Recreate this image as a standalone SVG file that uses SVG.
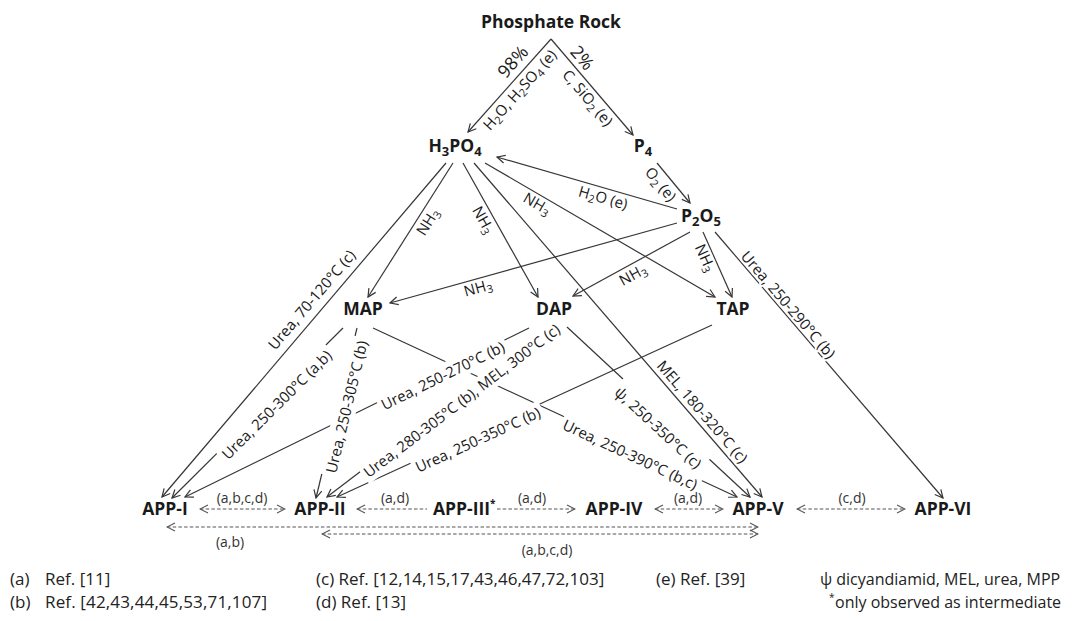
<svg xmlns="http://www.w3.org/2000/svg" width="1072" height="621" viewBox="0 0 1072 621">
<style>
text{font-family:"Open Sans","Noto Sans","DejaVu Sans",sans-serif;fill:#1a1a1a}
.n{font-size:17.5px;font-weight:bold;text-anchor:middle}
.l{font-size:15px;text-anchor:middle}
.h{stroke:#fff;stroke-width:4;paint-order:stroke;stroke-linejoin:round}
.p{font-size:18px;text-anchor:middle}
.bx{fill:#fff}
.dl{font-size:14px;text-anchor:middle;fill:#333}
.lg{font-size:17px;fill:#222}
.lg2{font-size:16px;fill:#222}
.e{fill:none;stroke:#363636;stroke-width:1.2;marker-end:url(#ah)}
.d{fill:none;stroke:#555;stroke-width:1.1;stroke-dasharray:3.5 2.2}
</style>
<defs>
<marker id="ah" viewBox="0 0 10 10" refX="9" refY="5" markerWidth="10" markerHeight="10" markerUnits="userSpaceOnUse" orient="auto-start-reverse">
<path d="M1,1 L9,5 L1,9" fill="none" stroke="#363636" stroke-width="1.2"/>
</marker>
<marker id="dh" viewBox="0 0 10 10" refX="9" refY="5" markerWidth="10" markerHeight="10" markerUnits="userSpaceOnUse" orient="auto-start-reverse">
<path d="M1,1 L9,5 L1,9" fill="none" stroke="#555" stroke-width="1.1"/>
</marker>
</defs>
<rect width="1072" height="621" fill="#fff"/>
<g id="connectors">
<path class="e" d="M551,39 L468,132"/>
<path class="e" d="M551,39 L633,135"/>
<path class="e" d="M657,163 L690,203"/>
<path class="e" d="M677,209 L497,157"/>
<path class="e" d="M446,163 L162,497"/>
<path class="e" d="M453,163 L368,297"/>
<path class="e" d="M463,163 L538,297"/>
<path class="e" d="M485,163 L715,297"/>
<path class="e" d="M474,163 L762,497"/>
<path class="e" d="M677,223 L390,303"/>
<path class="e" d="M690,232 L573,296"/>
<path class="e" d="M703,232 L732,297"/>
<path class="e" d="M715,232 L943,498"/>
<path class="e" d="M343,328 L172,498"/>
<path class="e" d="M357,328 L316,498"/>
<path class="e" d="M373,328 L737,497"/>
<path class="e" d="M529,328 L185,497"/>
<path class="e" d="M550,327 L327,497"/>
<path class="e" d="M712,325 L337,497"/>
<path class="e" d="M567,327 L750,497"/>
<path class="d" d="M200,509 L285,509" marker-start="url(#dh)" marker-end="url(#dh)"/>
<path class="d" d="M357,509 L427,509" marker-start="url(#dh)"/>
<path class="d" d="M497,509 L575,509" marker-end="url(#dh)"/>
<path class="d" d="M655,509 L723,509" marker-start="url(#dh)" marker-end="url(#dh)"/>
<path class="d" d="M797,509 L905,509" marker-start="url(#dh)" marker-end="url(#dh)"/>
<path class="d" d="M167,527 L758,527" marker-start="url(#dh)" marker-end="url(#dh)"/>
<path class="d" d="M322,534 L758,534" marker-start="url(#dh)" marker-end="url(#dh)"/>
</g>
<g id="edge-labels">
<text class="p h" transform="translate(513,62) rotate(-48.3)" y="6">98%</text>
<text class="l h" transform="translate(520,90) rotate(-48.3)" y="5">H<tspan font-size="11" dy="3">2</tspan><tspan dy="-3">O, H</tspan><tspan font-size="11" dy="3">2</tspan><tspan dy="-3">SO</tspan><tspan font-size="11" dy="3">4</tspan><tspan dy="-3"> (e)</tspan></text>
<text class="p h" transform="translate(582,58) rotate(49.5)" y="6">2%</text>
<text class="l h" transform="translate(587.5,98) rotate(49.5)" y="5">C, SiO<tspan font-size="11" dy="3">2</tspan><tspan dy="-3"> (e)</tspan></text>
<text class="l h" transform="translate(660.5,184.5) rotate(50.5)" y="5">O<tspan font-size="11" dy="3">2</tspan><tspan dy="-3"> (e)</tspan></text>
<text class="l h" transform="translate(603,198) rotate(16)" y="5">H<tspan font-size="11" dy="3">2</tspan><tspan dy="-3">O (e)</tspan></text>
<text class="l h" transform="translate(428,222) rotate(-57.6)" y="5">NH<tspan font-size="11" dy="3">3</tspan></text>
<text class="l h" transform="translate(483,220) rotate(60.8)" y="5">NH<tspan font-size="11" dy="3">3</tspan></text>
<text class="l h" transform="translate(537,204) rotate(30.2)" y="5">NH<tspan font-size="11" dy="3">3</tspan></text>
<text class="l h" transform="translate(478,288) rotate(-15.6)" y="5">NH<tspan font-size="11" dy="3">3</tspan></text>
<text class="l h" transform="translate(633,275) rotate(-28.7)" y="5">NH<tspan font-size="11" dy="3">3</tspan></text>
<text class="l h" transform="translate(705,258) rotate(65.9)" y="5">NH<tspan font-size="11" dy="3">3</tspan></text>
<text class="l h" transform="translate(312,300) rotate(-49.6)" y="5">Urea, 70-120°C (c)</text>
<text class="l h" transform="translate(788,305) rotate(49.4)" y="5">Urea, 250-290°C (b)</text>
<text class="l h" transform="translate(702,412) rotate(49.2)" y="5">MEL, 180-320°C (c)</text>
<g transform="translate(277,405) rotate(-44.8)"><rect class="bx" x="-77" y="-12" width="154" height="22"/><text class="l" y="5" textLength="147.6">Urea, 250-300°C (a,b)</text></g>
<g transform="translate(347,407) rotate(-76.4)"><rect class="bx" x="-71" y="-12" width="142" height="22"/><text class="l" y="5" textLength="135.6">Urea, 250-305°C (b)</text></g>
<g transform="translate(443,376) rotate(-26.2)"><rect class="bx" x="-71" y="-12" width="142" height="22"/><text class="l" y="5" textLength="135.6">Urea, 250-270°C (b)</text></g>
<g transform="translate(462,401) rotate(-37.3)"><rect class="bx" x="-124" y="-10" width="248" height="20"/><text class="l" y="5" textLength="242">Urea, 280-305°C (b), MEL, 300°C (c)</text></g>
<g transform="translate(478,440) rotate(-24.6)"><rect class="bx" x="-71" y="-11" width="142" height="21"/><text class="l" y="5" textLength="135.6">Urea, 250-350°C (b)</text></g>
<g transform="translate(630,455) rotate(24.9)"><rect class="bx" x="-76" y="-11" width="152" height="21"/><text class="l" y="5" textLength="146.4">Urea, 250-390°C (b,c)</text></g>
<g transform="translate(658,428) rotate(42.9)"><rect class="bx" x="-59" y="-15" width="118" height="25"/><text class="l" y="5" textLength="112">ψ, 250-350°C (c)</text></g>
<text class="dl" x="242" y="503">(a,b,c,d)</text>
<text class="dl" x="395" y="503">(a,d)</text>
<text class="dl" x="532" y="503">(a,d)</text>
<text class="dl" x="688" y="503">(a,d)</text>
<text class="dl" x="852" y="503">(c,d)</text>
<text class="dl" x="230" y="547">(a,b)</text>
<text class="dl" x="547" y="555">(a,b,c,d)</text>
</g>
<g id="phosphate-rock"><text class="n" x="551" y="28">Phosphate Rock</text></g>
<g id="h3po4"><text class="n" x="455" y="152">H<tspan font-size="13" dy="4">3</tspan><tspan dy="-4">PO</tspan><tspan font-size="13" dy="4">4</tspan></text></g>
<g id="p4"><text class="n" x="643" y="152">P<tspan font-size="13" dy="4">4</tspan></text></g>
<g id="p2o5"><text class="n" x="701" y="222">P<tspan font-size="13" dy="4">2</tspan><tspan dy="-4">O</tspan><tspan font-size="13" dy="4">5</tspan></text></g>
<g id="map"><text class="n" x="363" y="315">MAP</text></g>
<g id="dap"><text class="n" x="554" y="315">DAP</text></g>
<g id="tap"><text class="n" x="733" y="315">TAP</text></g>
<g id="app-i"><text class="n" x="165" y="515">APP-I</text></g>
<g id="app-ii"><text class="n" x="320" y="515">APP-II</text></g>
<g id="app-iii"><text class="n" x="433" y="515" style="text-anchor:start">APP-III<tspan font-size="10" dy="-8">*</tspan></text></g>
<g id="app-iv"><text class="n" x="614" y="515">APP-IV</text></g>
<g id="app-v"><text class="n" x="758" y="515">APP-V</text></g>
<g id="app-vi"><text class="n" x="943" y="515">APP-VI</text></g>
<g id="legend">
<text class="lg" x="10" y="585">(a)</text><text class="lg" x="45" y="585">Ref. [11]</text>
<text class="lg" x="10" y="608">(b)</text><text class="lg" x="45" y="608" textLength="222">Ref. [42,43,44,45,53,71,107]</text>
<text class="lg" x="316" y="585" font-size="17.5">(c) Ref. [12,14,15,17,43,46,47,72,103]</text>
<text class="lg" x="316" y="608" font-size="17.5">(d) Ref. [13]</text>
<text class="lg" x="656" y="585">(e) Ref. [39]</text>
<text class="lg2" x="820" y="585">ψ dicyandiamid, MEL, urea, MPP</text>
<text class="lg2" x="829" y="608"><tspan font-size="10" dy="-7">*</tspan><tspan dy="7" x="835">only observed as intermediate</tspan></text>
</g>
</svg>
